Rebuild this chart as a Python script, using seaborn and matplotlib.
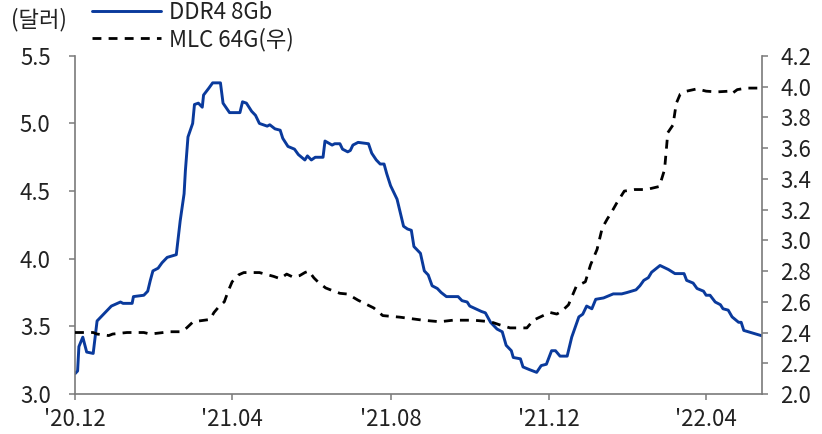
import numpy as np
import pandas as pd
import matplotlib
matplotlib.use("Agg")
import matplotlib.pyplot as plt
import matplotlib.dates as mdates
from matplotlib.ticker import FormatStrFormatter
import seaborn as sns

# ---- data ----
start_date = "2020-12-01"

ddr4_day = [0, 2, 3, 6, 9, 14, 17, 20, 23, 28, 35, 37, 44, 45, 53, 56, 58, 60, 64, 67,
            71, 78, 81, 84, 85, 87, 90.6, 92, 95, 98, 99, 103, 106, 112, 114, 119, 127,
            129, 132, 136, 139, 142, 148, 150, 154, 158, 160, 164, 169, 172, 177, 179,
            182, 185, 191, 192.5, 198, 200, 204, 206, 210, 212, 214, 218, 226, 228.5,
            232, 235, 238, 240, 243, 245, 248, 250, 253, 256, 259, 261, 264, 266, 269,
            272, 275, 279, 282, 286, 295, 298, 302, 304, 313, 316, 320, 325, 329, 332,
            336, 337.5, 343, 345, 350, 355.5, 359, 363, 367, 370, 373.5, 379, 382.5,
            388, 391, 394, 398, 401, 407, 414.5, 421, 425, 432, 435, 438, 441.5, 444,
            450.5, 457, 462, 469, 471, 476, 479, 484, 486, 489, 493, 497, 499, 503, 506,
            511, 513, 515, 522, 529]
ddr4_val = [3.15, 3.17, 3.35, 3.42, 3.31, 3.30, 3.54, 3.57, 3.60, 3.65, 3.68, 3.67, 3.67,
            3.72, 3.73, 3.76, 3.84, 3.91, 3.93, 3.97, 4.01, 4.03, 4.28, 4.48, 4.65, 4.90,
            5.00, 5.14, 5.15, 5.12, 5.21, 5.26, 5.30, 5.30, 5.15, 5.08, 5.08, 5.16, 5.15,
            5.09, 5.06, 5.00, 4.98, 4.99, 4.96, 4.95, 4.89, 4.83, 4.81, 4.77, 4.73, 4.76,
            4.73, 4.75, 4.75, 4.87, 4.84, 4.85, 4.85, 4.81, 4.79, 4.80, 4.84, 4.86, 4.85,
            4.78, 4.73, 4.70, 4.70, 4.63, 4.54, 4.50, 4.44, 4.36, 4.24, 4.22, 4.21, 4.09,
            4.06, 4.04, 3.91, 3.88, 3.80, 3.78, 3.75, 3.72, 3.72, 3.69, 3.68, 3.65, 3.61,
            3.60, 3.53, 3.48, 3.46, 3.36, 3.32, 3.27, 3.26, 3.20, 3.18, 3.16, 3.21, 3.22,
            3.32, 3.32, 3.28, 3.28, 3.42, 3.57, 3.59, 3.65, 3.63, 3.70, 3.71, 3.74, 3.74,
            3.75, 3.77, 3.80, 3.84, 3.86, 3.90, 3.95, 3.92, 3.89, 3.89, 3.84, 3.82, 3.78,
            3.76, 3.73, 3.73, 3.68, 3.66, 3.63, 3.62, 3.57, 3.53, 3.53, 3.47, 3.45, 3.43]

mlc_day = [0, 14, 17, 26, 29, 40, 53, 58, 68, 73, 82, 86, 91, 104, 107, 111, 115, 118,
           121, 126, 130, 142, 153, 158, 163, 168, 173, 177, 180, 184, 187, 193, 199,
           204, 210, 218, 230, 237, 250, 268, 281, 291, 307, 320, 327, 335, 348, 353,
           358, 363, 366, 371, 375, 380, 385, 386, 393, 397, 402, 406, 410, 413, 417,
           423, 431, 440, 450, 454, 456.5, 460.5, 463, 466, 471, 479, 486, 494, 504,
           506, 510, 517, 529]
mlc_val = [2.40, 2.40, 2.39, 2.38, 2.39, 2.40, 2.40, 2.39, 2.40, 2.405, 2.405, 2.43,
           2.47, 2.485, 2.53, 2.57, 2.60, 2.67, 2.73, 2.775, 2.79, 2.79, 2.765, 2.75,
           2.78, 2.76, 2.77, 2.79, 2.80, 2.755, 2.73, 2.69, 2.67, 2.655, 2.65, 2.61,
           2.56, 2.51, 2.50, 2.48, 2.47, 2.48, 2.48, 2.47, 2.45, 2.43, 2.43, 2.48, 2.50,
           2.52, 2.53, 2.52, 2.54, 2.58, 2.68, 2.70, 2.73, 2.84, 2.94, 3.08, 3.14, 3.18,
           3.24, 3.32, 3.33, 3.33, 3.35, 3.46, 3.70, 3.75, 3.89, 3.95, 3.97, 3.985, 3.97,
           3.965, 3.97, 3.955, 3.98, 3.99, 3.99]

xtick_dates = ["2020-12-01", "2021-04-01", "2021-08-01", "2021-12-01", "2022-04-01"]
xtick_labels = ["'20.12", "'21.04", "'21.08", "'21.12", "'22.04"]
left_ticks = [3.0, 3.5, 4.0, 4.5, 5.0, 5.5]
right_ticks = [2.0, 2.2, 2.4, 2.6, 2.8, 3.0, 3.2, 3.4, 3.6, 3.8, 4.0, 4.2]
series_names = ["DDR4 8Gb", "MLC 64G(우)"]
unit_label = "(달러)"

# ---- build frames ----
t0 = pd.Timestamp(start_date)
ddr4_df = pd.DataFrame({"date": t0 + pd.to_timedelta(ddr4_day, unit="D"), "price": ddr4_val})
mlc_df = pd.DataFrame({"date": t0 + pd.to_timedelta(mlc_day, unit="D"), "price": mlc_val})

sns.set_style("white")
plt.rcParams["font.family"] = ["Noto Sans CJK KR", "DejaVu Sans"]

BLUE = "#0a3a9c"
SPINE = "#7a7a7a"
TXT = "#222222"
FS = 16

fig = plt.figure(figsize=(8.22, 4.34), dpi=100)
ax = fig.add_axes([75 / 822, 1 - 394 / 434, (761.7 - 75) / 822, (394 - 55.8) / 434])
ax2 = ax.twinx()

sns.lineplot(data=ddr4_df, x="date", y="price", ax=ax, color=BLUE, linewidth=2.1,
             label=series_names[0], legend=False)
sns.lineplot(data=mlc_df, x="date", y="price", ax=ax2, color="black", linewidth=2.0,
             label=series_names[1], legend=False)
ax2.lines[0].set_dashes((3.2, 2.6))

ax.set_xlim(t0, t0 + pd.Timedelta(days=528.8))
ax.set_ylim(3.0, 5.5)
ax2.set_ylim(2.0, 4.2)

ax.set_xticks(pd.to_datetime(xtick_dates))
ax.set_xticklabels(xtick_labels)
ax.set_yticks(left_ticks)
ax2.set_yticks(right_ticks)
ax.yaxis.set_major_formatter(FormatStrFormatter("%.1f"))
ax2.yaxis.set_major_formatter(FormatStrFormatter("%.1f"))

for a in (ax, ax2):
    a.set_xlabel("")
    a.set_ylabel("")
    a.spines["top"].set_visible(False)
    for s in ("left", "right", "bottom"):
        a.spines[s].set_color(SPINE)
        a.spines[s].set_linewidth(1.2)

ax.spines["right"].set_visible(False)
ax2.spines["left"].set_visible(False)
ax2.spines["bottom"].set_visible(False)

ax.tick_params(axis="y", which="major", direction="out", length=4.5, width=1.1,
               color=SPINE, labelsize=FS, labelcolor=TXT, pad=13, left=True)
ax.tick_params(axis="x", which="major", direction="out", length=4, width=1.1,
               color=SPINE, labelsize=FS, labelcolor=TXT, pad=6, bottom=True)
ax2.tick_params(axis="y", which="major", direction="out", length=4.5, width=1.1,
                color=SPINE, labelsize=FS, labelcolor=TXT, pad=9, right=True)

# legend + unit label
handles = [ax.lines[0], ax2.lines[0]]
fig.legend(handles, series_names, loc="upper left", bbox_to_anchor=(92 / 822, 1 - 1 / 434),
           frameon=False, fontsize=FS, handlelength=3.1, handletextpad=0.35,
           labelspacing=0.15, borderpad=0, borderaxespad=0, labelcolor=TXT)
fig.text(11 / 822, 1 - 20 / 434, unit_label, ha="left", va="center", fontsize=FS, color=TXT)

fig.savefig("out.png", dpi=100)
